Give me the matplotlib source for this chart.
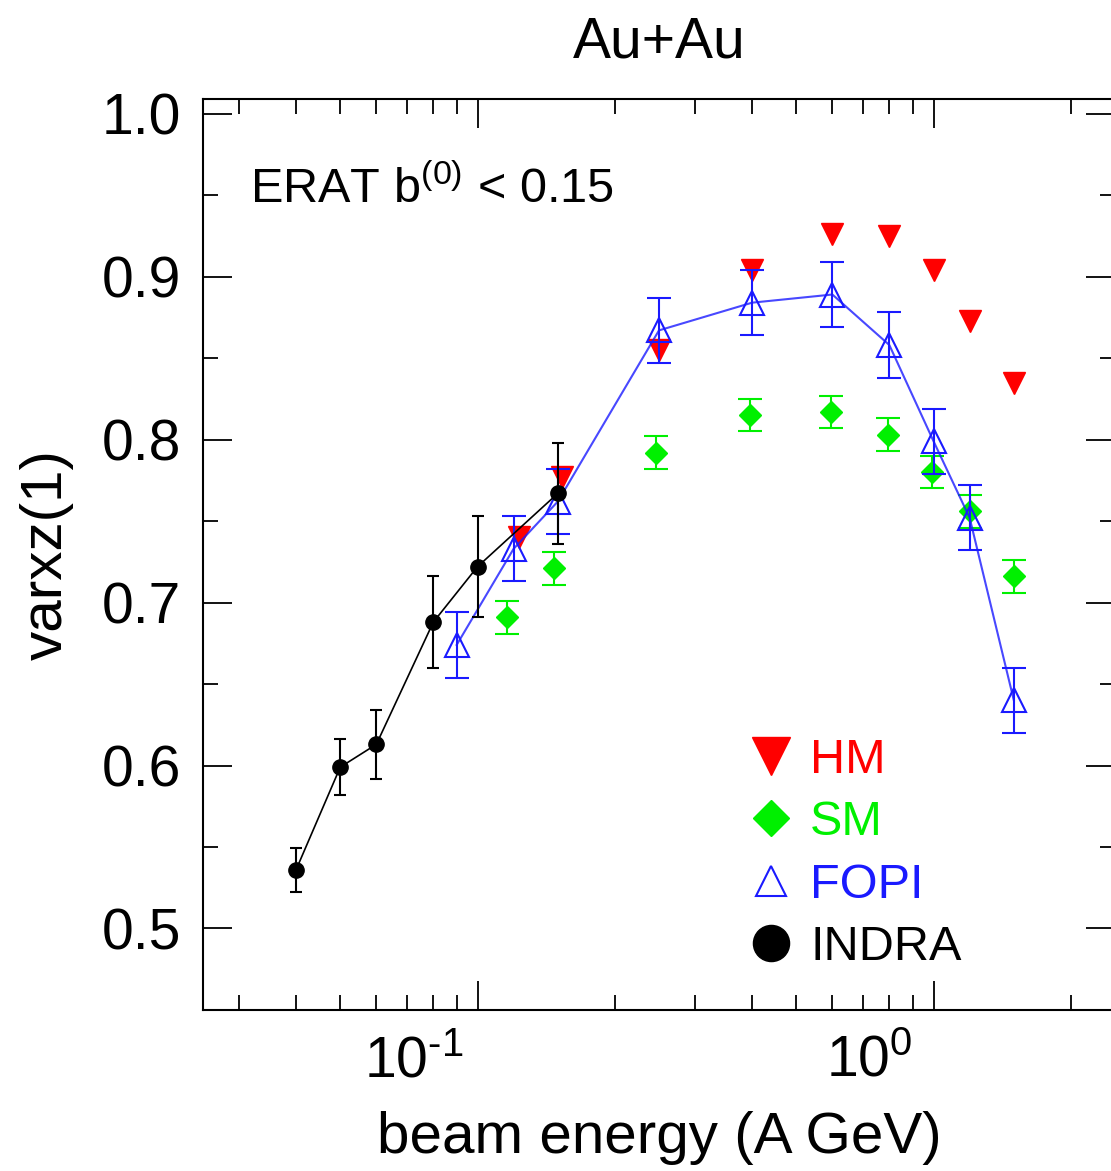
import matplotlib
matplotlib.use("Agg")
import matplotlib.pyplot as plt
import matplotlib.transforms as mtransforms
from matplotlib.lines import Line2D
from matplotlib.ticker import MultipleLocator, FormatStrFormatter, FuncFormatter
import numpy as np

plt.rcParams['font.family'] = ['Liberation Sans', 'DejaVu Sans']
plt.rcParams['mathtext.fontset'] = 'custom'
plt.rcParams['mathtext.rm'] = 'Liberation Sans'
plt.rcParams['mathtext.it'] = 'Liberation Sans:italic'

# INDRA
indra_e = [0.04, 0.05, 0.06, 0.08, 0.10, 0.15]
indra_v = [0.536, 0.599, 0.613, 0.688, 0.722, 0.767]
indra_err = [0.0135, 0.017, 0.021, 0.028, 0.031, 0.031]

# FOPI
fopi_e = [0.09, 0.12, 0.15, 0.25, 0.40, 0.60, 0.80, 1.00, 1.20, 1.50]
fopi_v = [0.674, 0.733, 0.762, 0.867, 0.884, 0.889, 0.858, 0.799, 0.752, 0.640]
fopi_err = [0.02, 0.02, 0.02, 0.02, 0.02, 0.02, 0.02, 0.02, 0.02, 0.02]

# HM
hm_e = [0.123, 0.153, 0.25, 0.40, 0.60, 0.80, 1.00, 1.20, 1.50]
hm_v = [0.740, 0.777, 0.855, 0.904, 0.926, 0.925, 0.904, 0.873, 0.835]

# SM
sm_e = [0.116, 0.147, 0.246, 0.395, 0.596, 0.793, 0.99, 1.2, 1.5]
sm_v = [0.691, 0.721, 0.792, 0.815, 0.817, 0.803, 0.780, 0.756, 0.716]
sm_err = [0.010, 0.010, 0.010, 0.010, 0.010, 0.010, 0.010, 0.010, 0.010]

red = '#ff0000'
green = '#00f000'
blue = '#1a1aff'

fig = plt.figure(figsize=(11.11, 11.71), dpi=100)
ax = fig.add_axes([0.1827, 0.1375, 0.8209, 0.778])

# HM
ax.plot(hm_e, hm_v, linestyle='none', marker='v', color=red, markersize=16, zorder=3)

# SM
ax.errorbar(sm_e, sm_v, yerr=sm_err, fmt='D', color=green, markersize=11,
            capsize=8.5, elinewidth=1.5, capthick=1.5, zorder=3)

# FOPI
ax.plot(fopi_e, fopi_v, color=blue, lw=1.5, alpha=0.8, zorder=4)
ax.errorbar(fopi_e, fopi_v, yerr=fopi_err, fmt='^', color=blue, markersize=17,
            markerfacecolor='none', markeredgewidth=1.5,
            capsize=8.5, elinewidth=1.5, capthick=1.5, zorder=4)

# INDRA
ax.errorbar(indra_e, indra_v, yerr=indra_err, fmt='-o', color='black', markersize=11,
            lw=1.2, capsize=4.5, elinewidth=1.5, capthick=1.5, zorder=5)

ax.set_xscale('log')
ax.set_xlim(0.025, 2.5)
ax.set_ylim(0.45, 1.009)
ax.yaxis.set_major_locator(MultipleLocator(0.1))
ax.yaxis.set_minor_locator(MultipleLocator(0.05))
ax.yaxis.set_major_formatter(FormatStrFormatter('%.1f'))


def decade(x, pos):
    p = int(round(np.log10(x)))
    return r'$10^{%s}$' % str(p).replace('-', '\u2010')


ax.xaxis.set_major_formatter(FuncFormatter(decade))

ax.tick_params(which='both', direction='in', top=True, right=True, width=1.3)
ax.tick_params(which='major', length=21, labelsize=41)
ax.tick_params(axis='y', which='major', pad=16)
ax.tick_params(axis='x', which='major', pad=18)
ax.tick_params(which='minor', length=10.5)
for s in ax.spines.values():
    s.set_linewidth(1.5)

# tick labels in the original sit a bit left of their ticks
shift = mtransforms.ScaledTranslation(-0.64, 0, fig.dpi_scale_trans)
for tick in ax.xaxis.get_major_ticks():
    tick.label1.set_transform(tick.label1.get_transform() + shift)

ax.set_xlabel('beam energy (A GeV)', fontsize=42, labelpad=16)
ax.set_ylabel('varxz(1)', fontsize=42, labelpad=20)
ax.set_title('Au+Au', fontsize=41, pad=30)

ax.text(0.052, 0.90, r'ERAT b$^{(0)}$ < 0.15', transform=ax.transAxes,
        fontsize=35, va='center', ha='left')

handles = [
    Line2D([], [], linestyle='none', marker='v', color=red, markersize=28),
    Line2D([], [], linestyle='none', marker='D', color=green, markersize=18),
    Line2D([], [], linestyle='none', marker='^', color=blue, markersize=21,
           markerfacecolor='none', markeredgewidth=1.5),
    Line2D([], [], linestyle='none', marker='o', color='black', markersize=26),
]
labels = ['HM', 'SM', 'FOPI', 'INDRA']
ax.legend(handles, labels, loc='upper left', bbox_to_anchor=(0.551, 0.347),
          frameon=False, fontsize=35, handlelength=0.9, handletextpad=0.35,
          labelspacing=0.36, labelcolor=[red, green, blue, 'black'])

fig.savefig('out.png', dpi=100)
